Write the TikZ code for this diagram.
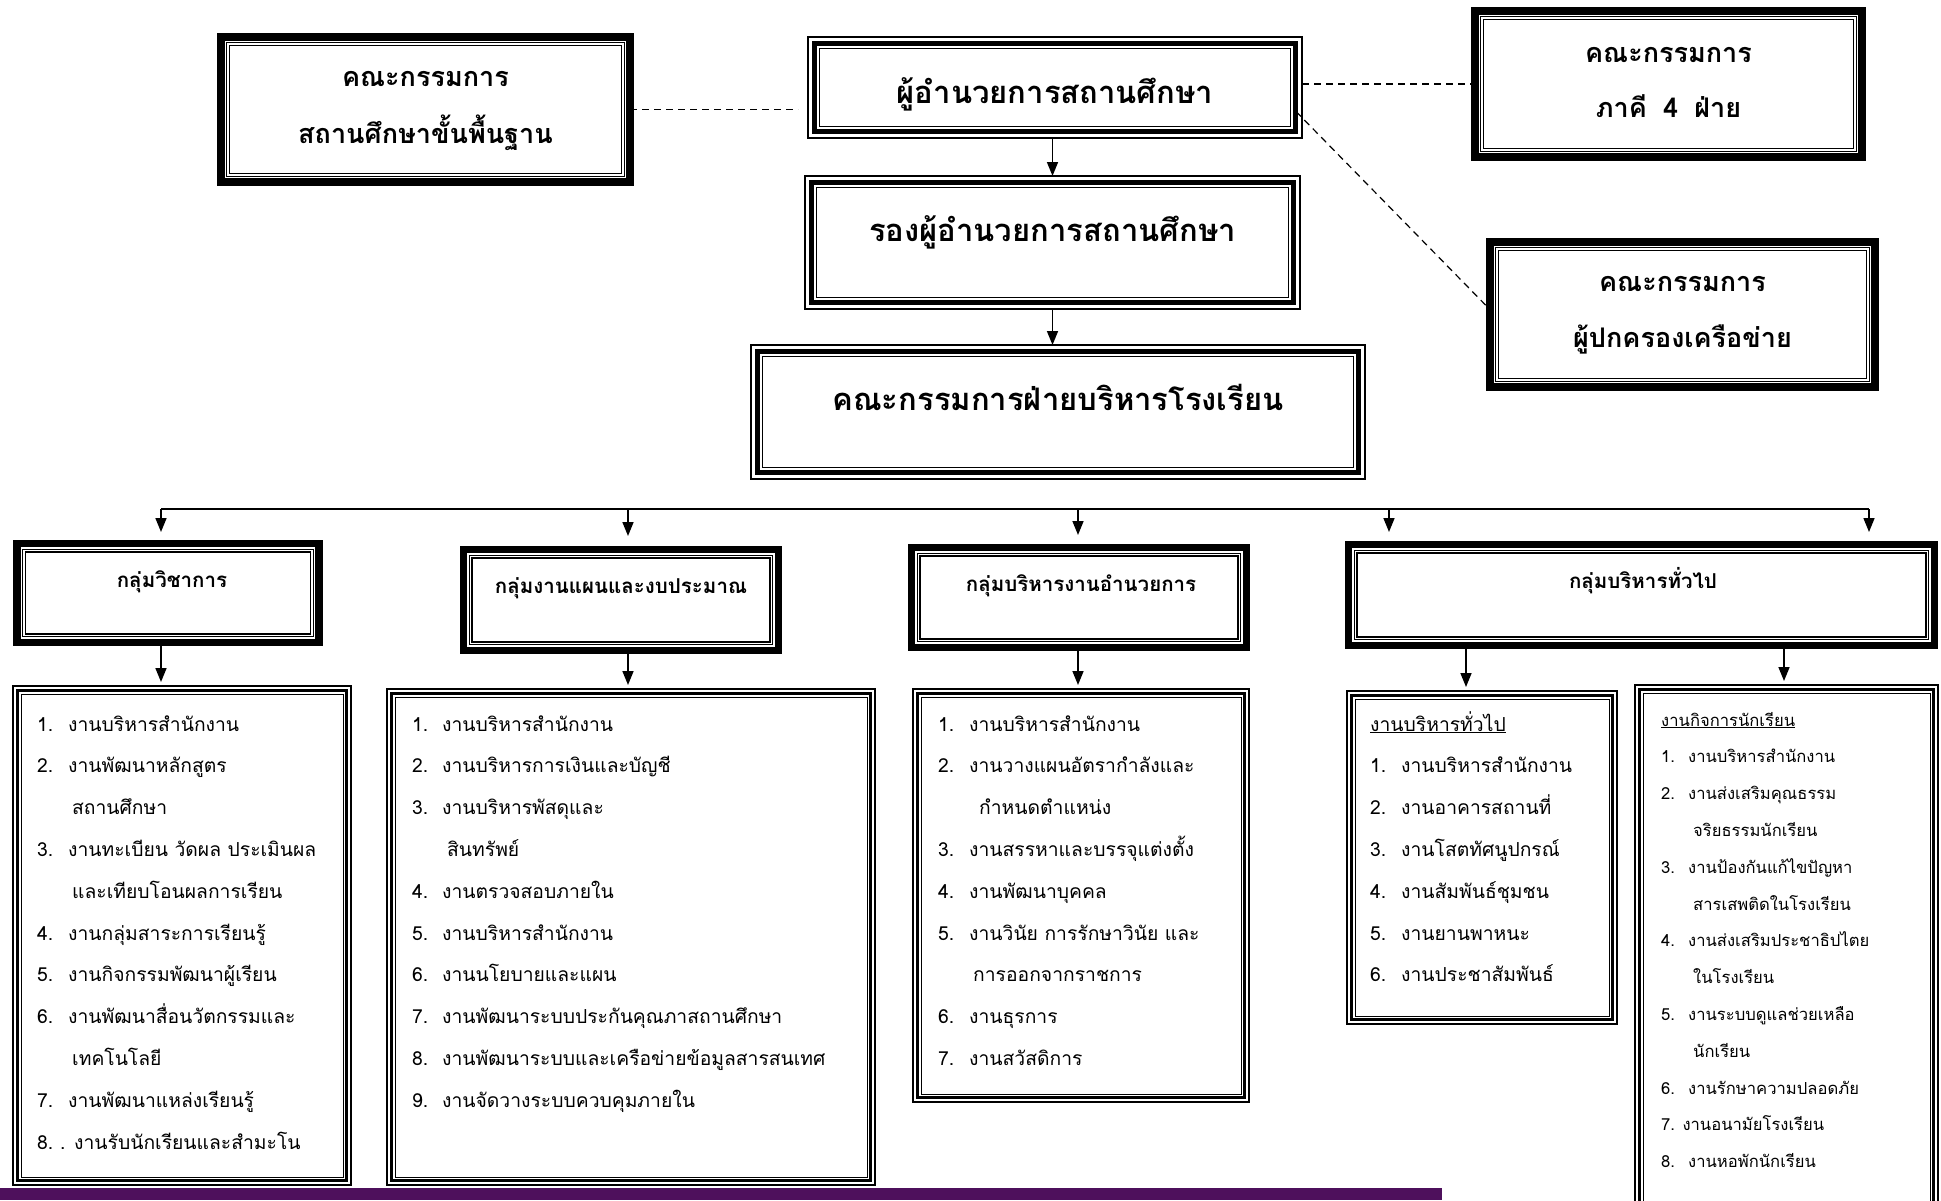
\documentclass[tikz,border=0pt]{standalone}
\usepackage{fontspec}
\setmainfont[Script=Thai]{Loma}
\usetikzlibrary{arrows.meta,calc}
\definecolor{barpurple}{RGB}{78,16,92}
\newlength\numw
\newcommand\itm[2]{\makebox[\numw][l]{#1}#2}
\newcommand\cnt[2]{\hspace{\dimexpr\numw+#1\relax}#2}
\newcommand\inrect[3]{\draw[#3] ([shift={(#2,#2)}]#1.north west) rectangle ([shift={(-#2,-#2)}]#1.south east);}
\newcommand\thickbox[1]{\inrect{#1}{5.8}{line width=0.9pt}\inrect{#1}{8.6}{line width=1.3pt}}
\newcommand\triplebox[1]{\inrect{#1}{6.5}{line width=4.5pt}\inrect{#1}{11.5}{line width=1.5pt}}
\newcommand\listbox[1]{\inrect{#1}{4.5}{line width=2.6pt}\inrect{#1}{8}{line width=1pt}}
\tikzset{
  frame/.style={draw, inner sep=0pt, outer sep=0pt},
  thickframe/.style={frame, line width=7.5pt},
  tripleframe/.style={frame, line width=1.8pt},
  listframe/.style={frame, line width=1.4pt},
  toptxt/.style={inner sep=0pt, anchor=base, font=\fontsize{27}{30}\selectfont\bfseries},
  midtxt/.style={inner sep=0pt, anchor=base, font=\fontsize{31}{34}\selectfont\bfseries},
  grptxt/.style={inner sep=0pt, anchor=base, font=\fontsize{20.5}{24}\selectfont\bfseries},
  listtxt/.style={inner sep=0pt, anchor=base west, font=\fontsize{19.3}{41.8}\selectfont},
  smalltxt/.style={inner sep=0pt, anchor=base west, font=\fontsize{16.6}{36.8}\selectfont},
  arr/.style={line width=1.6pt, -{Triangle[width=11pt,length=14pt]}},
  dashln/.style={line width=1.2pt, dash pattern=on 7pt off 5pt},
}
\begin{document}
\begin{tikzpicture}[x=1pt,y=-1pt]
\useasboundingbox (0,0) rectangle (1941,1200);
\clip (0,0) rectangle (1941,1200);
% purple bar
\fill[barpurple] (0,1188) rectangle (1442,1200);

% ---- top boxes
\node[thickframe, minimum width=409pt, minimum height=145pt] (lt) at (425.5,109.5) {};
\thickbox{lt}
\node[tripleframe, minimum width=494pt, minimum height=101pt] (c1) at (1055,87.5) {};
\triplebox{c1}
\node[tripleframe, minimum width=495pt, minimum height=133pt] (c2) at (1052.5,242.5) {};
\triplebox{c2}
\node[tripleframe, minimum width=614pt, minimum height=134pt] (c3) at (1058,412) {};
\triplebox{c3}
\node[thickframe, minimum width=387pt, minimum height=146pt] (rb1) at (1668.5,84) {};
\thickbox{rb1}
\node[thickframe, minimum width=385pt, minimum height=145pt] (rb2) at (1682.5,314.5) {};
\thickbox{rb2}

\node[toptxt] (lt1) at (425.5,86) {คณะกรรมการ};
\node[toptxt] (lt2) at (425.5,143) {สถานศึกษาขั้นพื้นฐาน};
\node[midtxt] (c1t) at (1055,103) {ผู้อำนวยการสถานศึกษา};
\node[midtxt] (c2t) at (1052.5,241) {รองผู้อำนวยการสถานศึกษา};
\node[midtxt] (c3t) at (1058,410) {คณะกรรมการฝ่ายบริหารโรงเรียน};
\node[toptxt] (rb1a) at (1668.5,62) {คณะกรรมการ};
\node[toptxt] (rb1b) at (1668.5,117) {ภาคี\hspace{0.6em}4\hspace{0.6em}ฝ่าย};
\node[toptxt] (rb2a) at (1682.5,291) {คณะกรรมการ};
\node[toptxt] (rb2b) at (1682.5,347) {ผู้ปกครองเครือข่าย};

% dashed connectors
\draw[dashln] (lt.east) -- ([xshift=-10pt]lt.east -| c1.west);
\draw[dashln] (rb1.west -| c1.east) -- (rb1.west);
\draw[dashln] ([shift={(-6,24)}]c1.east) -- ([shift={(-3,-8)}]rb2.west);

% arrows between centre boxes
\draw[arr] (c1.south -| c2.center) -- (c2.north -| c2.center);
\draw[arr] (c2.south) -- (c2.south |- c3.north);

% ---- group boxes
\node[thickframe, minimum width=302pt, minimum height=99pt] (g1) at (168,593) {};
\thickbox{g1}
\node[thickframe, minimum width=315pt, minimum height=101pt] (g2) at (621,600) {};
\thickbox{g2}
\node[thickframe, minimum width=335pt, minimum height=100pt] (g3) at (1079,597.5) {};
\thickbox{g3}
\node[thickframe, minimum width=586pt, minimum height=101pt] (g4) at (1641.5,595) {};
\thickbox{g4}

\node[grptxt] (g1t) at (172,587) {กลุ่มวิชาการ};
\node[grptxt] (g2t) at (621,593) {กลุ่มงานแผนและงบประมาณ};
\node[grptxt] (g3t) at (1081,591) {กลุ่มบริหารงานอำนวยการ};
\node[grptxt] (g4t) at (1643,588) {กลุ่มบริหารทั่วไป};

% bus
\coordinate (busL) at (161,509);
\coordinate (busR) at (1869,509);
\draw[line width=1.6pt] (busL) -- (busR);
\coordinate (a1) at (161,532);
\coordinate (a2) at (628,536);
\coordinate (a3) at (1078,535);
\coordinate (a4) at (1389,532);
\coordinate (a5) at (1869,532);
\coordinate (b4) at (1466,686);
\coordinate (b5) at (1784,681);
\draw[arr] (busL) -- (a1);
\draw[arr] (a2 |- busL) -- (a2);
\draw[arr] (a3 |- busL) -- (a3);
\draw[arr] (a4 |- busL) -- (a4);
\draw[arr] (busR) -- (a5);

% ---- list boxes
\node[listframe, minimum width=338pt, minimum height=499pt] (l1) at (182,935.5) {};
\listbox{l1}
\node[listframe, minimum width=488pt, minimum height=496pt] (l2) at (631,937) {};
\listbox{l2}
\node[listframe, minimum width=336pt, minimum height=413pt] (l3) at (1081,895.5) {};
\listbox{l3}
\node[listframe, minimum width=270pt, minimum height=333pt] (l4) at (1482,857.5) {};
\listbox{l4}
\node[listframe, minimum width=303pt, minimum height=530pt] (l5) at (1786.5,950) {};
\listbox{l5}

\draw[arr] (g1.south -| a1) -- ([yshift=4pt]l1.north -| a1);
\draw[arr] (g2.south -| a2) -- ([yshift=4pt]l2.north -| a2);
\draw[arr] (g3.south -| a3) -- ([yshift=4pt]l3.north -| a3);
\draw[arr] (g4.south -| b4) -- ([yshift=4pt]l4.north -| b4);
\draw[arr] (g4.south -| b5) -- ([yshift=4pt]l5.north -| b5);

% ---- list texts
\node[listtxt] (l1t) at (37,731) {\setlength\numw{31pt}\begin{tabular}[t]{@{}l@{}}
\itm{1.}{งานบริหารสำนักงาน}\\
\itm{2.}{งานพัฒนาหลักสูตร}\\
\cnt{4pt}{สถานศึกษา}\\
\itm{3.}{งานทะเบียน วัดผล ประเมินผล}\\
\cnt{4pt}{และเทียบโอนผลการเรียน}\\
\itm{4.}{งานกลุ่มสาระการเรียนรู้}\\
\itm{5.}{งานกิจกรรมพัฒนาผู้เรียน}\\
\itm{6.}{งานพัฒนาสื่อนวัตกรรมและ}\\
\cnt{4pt}{เทคโนโลยี}\\
\itm{7.}{งานพัฒนาแหล่งเรียนรู้}\\
\itm{8.}{\hspace{-8pt}. งานรับนักเรียนและสำมะโน}
\end{tabular}};

\node[listtxt] (l2t) at (412,731) {\setlength\numw{30pt}\begin{tabular}[t]{@{}l@{}}
\itm{1.}{งานบริหารสำนักงาน}\\
\itm{2.}{งานบริหารการเงินและบัญชี}\\
\itm{3.}{งานบริหารพัสดุและ}\\
\cnt{5pt}{สินทรัพย์}\\
\itm{4.}{งานตรวจสอบภายใน}\\
\itm{5.}{งานบริหารสำนักงาน}\\
\itm{6.}{งานนโยบายและแผน}\\
\itm{7.}{งานพัฒนาระบบประกันคุณภาสถานศึกษา}\\
\itm{8.}{งานพัฒนาระบบและเครือข่ายข้อมูลสารสนเทศ}\\
\itm{9.}{งานจัดวางระบบควบคุมภายใน}
\end{tabular}};

\node[listtxt] (l3t) at (938,731) {\setlength\numw{31pt}\begin{tabular}[t]{@{}l@{}}
\itm{1.}{งานบริหารสำนักงาน}\\
\itm{2.}{งานวางแผนอัตรากำลังและ}\\
\cnt{10pt}{กำหนดตำแหน่ง}\\
\itm{3.}{งานสรรหาและบรรจุแต่งตั้ง}\\
\itm{4.}{งานพัฒนาบุคคล}\\
\itm{5.}{งานวินัย การรักษาวินัย และ}\\
\cnt{4pt}{การออกจากราชการ}\\
\itm{6.}{งานธุรการ}\\
\itm{7.}{งานสวัสดิการ}
\end{tabular}};

\node[listtxt] (l4t) at (1370,731) {\setlength\numw{31pt}\begin{tabular}[t]{@{}l@{}}
\underline{งานบริหารทั่วไป}\\
\itm{1.}{งานบริหารสำนักงาน}\\
\itm{2.}{งานอาคารสถานที่}\\
\itm{3.}{งานโสตทัศนูปกรณ์}\\
\itm{4.}{งานสัมพันธ์ชุมชน}\\
\itm{5.}{งานยานพาหนะ}\\
\itm{6.}{งานประชาสัมพันธ์}
\end{tabular}};

\node[smalltxt] (l5t) at (1661,726) {\setlength\numw{27pt}\begin{tabular}[t]{@{}l@{}}
\underline{งานกิจการนักเรียน}\\
\itm{1.}{งานบริหารสำนักงาน}\\
\itm{2.}{งานส่งเสริมคุณธรรม}\\
\cnt{5pt}{จริยธรรมนักเรียน}\\
\itm{3.}{งานป้องกันแก้ไขปัญหา}\\
\cnt{5pt}{สารเสพติดในโรงเรียน}\\
\itm{4.}{งานส่งเสริมประชาธิปไตย}\\
\cnt{5pt}{ในโรงเรียน}\\
\itm{5.}{งานระบบดูแลช่วยเหลือ}\\
\cnt{5pt}{นักเรียน}\\
\itm{6.}{งานรักษาความปลอดภัย}\\
7. งานอนามัยโรงเรียน\\
\itm{8.}{งานหอพักนักเรียน}
\end{tabular}};
\end{tikzpicture}
\end{document}
